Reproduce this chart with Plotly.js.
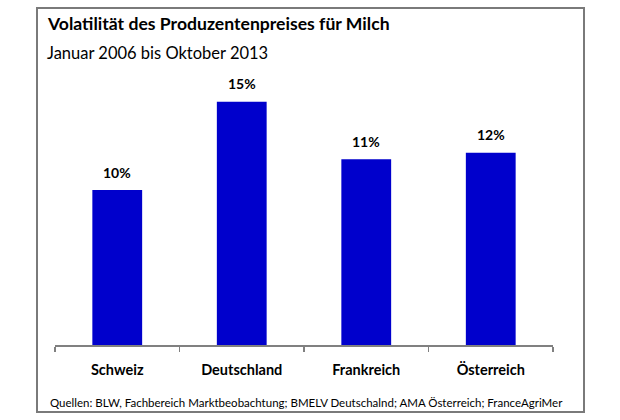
<!DOCTYPE html>
<html>
<head>
<meta charset="utf-8">
<script src="https://cdn.plot.ly/plotly-3.0.1.min.js"></script>
<style>html,body{margin:0;padding:0;background:#fff;}#chart{width:620px;height:420px;}</style>
</head>
<body>
<div id="chart"></div>
<script>
const categories = ["Schweiz", "Deutschland", "Frankreich", "Österreich"];
const volatility = [9.58, 15.04, 11.48, 11.89];
const valueLabels = ["10%", "15%", "11%", "12%"];
const titleText = "Volatilität des Produzentenpreises für Milch";
const subtitleText = "Januar 2006 bis Oktober 2013";
const sourceText = "Quellen: BLW, Fachbereich Marktbeobachtung; BMELV Deutschalnd; AMA Österreich; FranceAgriMer";

const FONT = "Lato, 'Open Sans', sans-serif";

const trace = {
  type: "bar",
  x: categories,
  y: volatility,
  width: 0.4,
  marker: {color: "#0000CC", line: {width: 0}},
  hoverinfo: "skip"
};

const labelAnnotations = categories.map((c, i) => ({
  x: c, y: volatility[i], xref: "x", yref: "y",
  text: valueLabels[i], showarrow: false,
  yanchor: "middle", yshift: 18,
  font: {family: FONT, size: 14, color: "#000", weight: "bold"}
}));

const layout = {
  width: 620, height: 420,
  margin: {l: 55, r: 67, t: 70, b: 75},
  paper_bgcolor: "#fff", plot_bgcolor: "#fff",
  showlegend: false,
  xaxis: {
    type: "category",
    showline: true, linecolor: "#808080", linewidth: 1.5,
    ticks: "outside", tickson: "boundaries", ticklen: 5, tickcolor: "#808080", tickwidth: 1.5,
    ticklabelstandoff: 11,
    tickfont: {family: FONT, size: 14.5, color: "#000", weight: "bold"},
    showgrid: false, zeroline: false, fixedrange: true
  },
  yaxis: {
    range: [0, 17], visible: false, showgrid: false, zeroline: false, fixedrange: true
  },
  annotations: labelAnnotations.concat([
    {
      xref: "paper", yref: "paper", x: (45-55)/498, y: (345-23)/275,
      xanchor: "left", yanchor: "middle", showarrow: false,
      text: "<b>" + titleText + "</b>",
      font: {family: FONT, size: 17.6, color: "#000"}
    },
    {
      xref: "paper", yref: "paper", x: (45-55)/498, y: (345-53)/275,
      xanchor: "left", yanchor: "middle", showarrow: false,
      text: subtitleText,
      font: {family: FONT, size: 16.5, color: "#000"}
    },
    {
      xref: "paper", yref: "paper", x: (48-55)/498, y: (345-402)/275,
      xanchor: "left", yanchor: "middle", showarrow: false,
      text: sourceText,
      font: {family: FONT, size: 11.5, color: "#000"}
    }
  ]),
  shapes: [{
    type: "rect", xref: "paper", yref: "paper",
    x0: (37-55)/498, x1: (584-55)/498,
    y0: (345-412)/275, y1: (345-8)/275,
    line: {color: "#7a7a7a", width: 2}, fillcolor: "rgba(0,0,0,0)", layer: "below"
  }]
};

Plotly.newPlot("chart", [trace], layout, {displayModeBar: false, staticPlot: true});
</script>
</body>
</html>
